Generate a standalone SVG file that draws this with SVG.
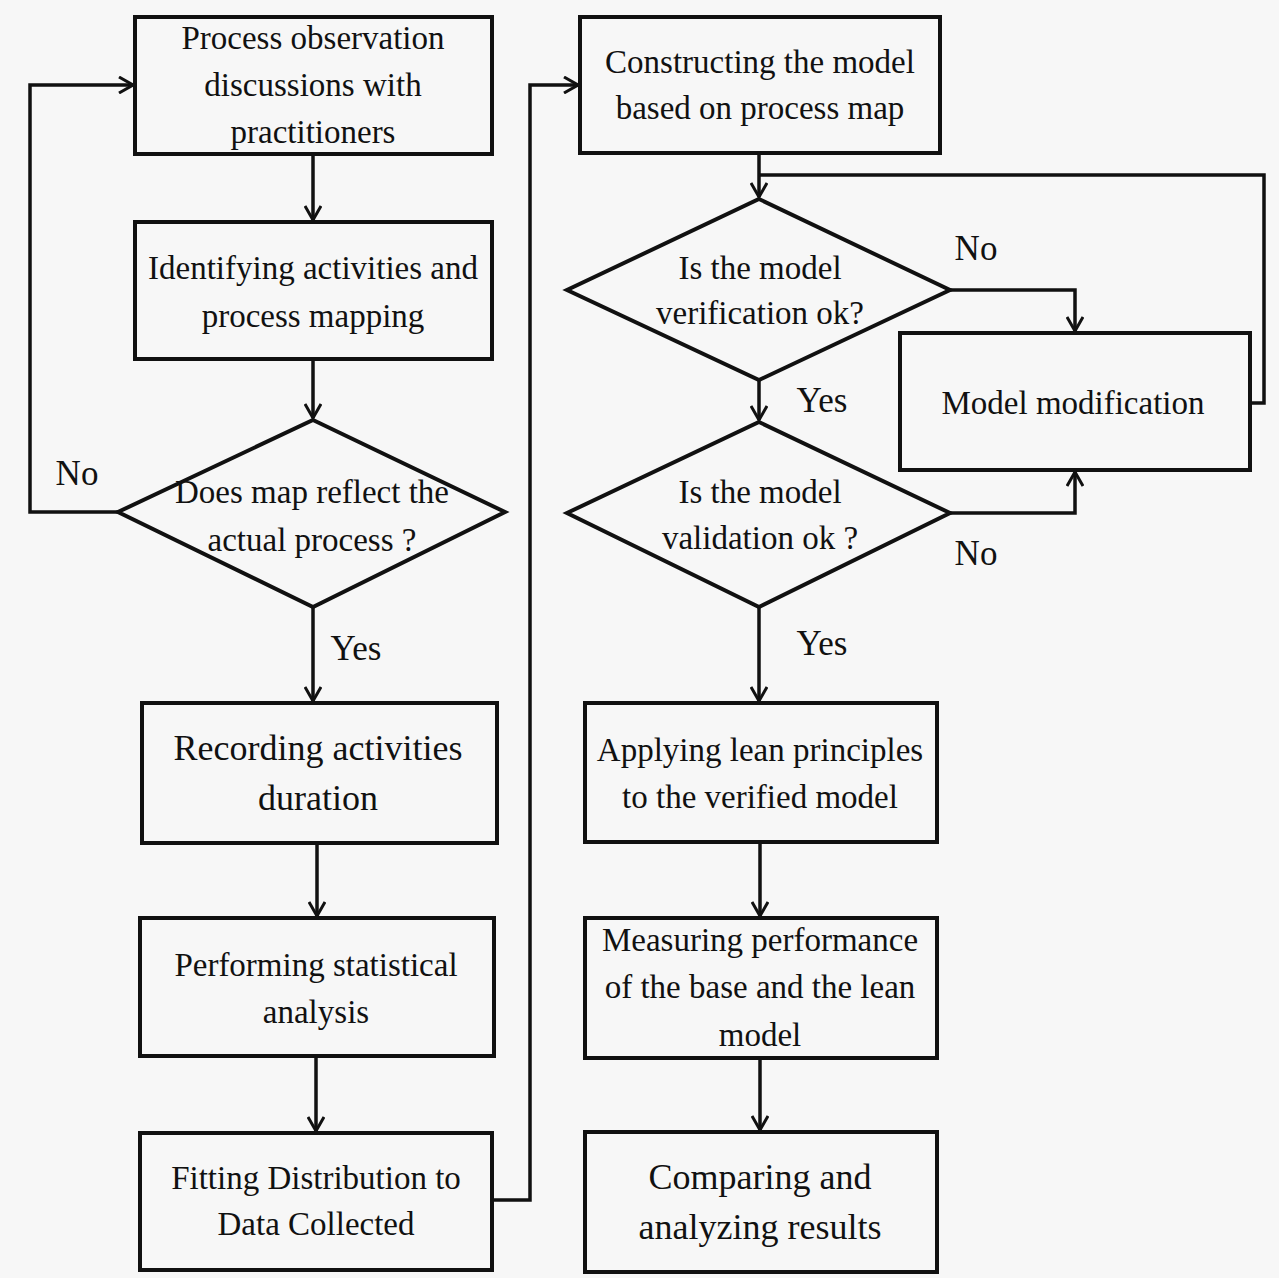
<svg xmlns="http://www.w3.org/2000/svg" width="1279" height="1278" viewBox="0 0 1279 1278">
<defs>
<marker id="arr" viewBox="0 0 16 18" refX="15" refY="9" markerWidth="16" markerHeight="18" markerUnits="userSpaceOnUse" orient="auto">
<path d="M1,1 L15,9 L1,17" fill="none" stroke="#111" stroke-width="3"/>
</marker>
<style>
.box{fill:#f7f7f7;stroke:#111;stroke-width:4}
.c{fill:none;stroke:#111;stroke-width:3.5}
text{font-family:"Liberation Serif","Times New Roman",serif;font-size:33px;fill:#111;text-anchor:middle;dominant-baseline:central}
.big{font-size:36px}
.lbl{font-size:35px}
</style>
</defs>
<rect x="0" y="0" width="1279" height="1278" fill="#f7f7f7"/>
<g id="connectors">
<path class="c" d="M313,154 V220" marker-end="url(#arr)"/>
<path class="c" d="M313,359 V418" marker-end="url(#arr)"/>
<path class="c" d="M313,607 V701" marker-end="url(#arr)"/>
<path class="c" d="M118,512 H30 V85 H133" marker-end="url(#arr)"/>
<path class="c" d="M317,843 V916" marker-end="url(#arr)"/>
<path class="c" d="M316,1056 V1131" marker-end="url(#arr)"/>
<path class="c" d="M492,1200 H530 V85 H578" marker-end="url(#arr)"/>
<path class="c" d="M759,153 V197" marker-end="url(#arr)"/>
<path class="c" d="M950,290 H1075 V331" marker-end="url(#arr)"/>
<path class="c" d="M759,380 V420" marker-end="url(#arr)"/>
<path class="c" d="M950,513 H1075 V472" marker-end="url(#arr)"/>
<path class="c" d="M1250,403 H1264 V175 H759"/>
<path class="c" d="M759,607 V701" marker-end="url(#arr)"/>
<path class="c" d="M760,842 V916" marker-end="url(#arr)"/>
<path class="c" d="M760,1058 V1130" marker-end="url(#arr)"/>
<text x="77" y="473" class="lbl">No</text>
<text x="356" y="648" class="lbl">Yes</text>
<text x="976" y="248" class="lbl">No</text>
<text x="822" y="400" class="lbl">Yes</text>
<text x="976" y="553" class="lbl">No</text>
<text x="822" y="643" class="lbl">Yes</text>
</g>
<g id="n1">
<rect class="box" x="135" y="17" width="357" height="137"/>
<text x="313" y="38">Process observation</text>
<text x="313" y="85">discussions with</text>
<text x="313" y="132">practitioners</text>
</g>
<g id="n2">
<rect class="box" x="135" y="222" width="357" height="137"/>
<text x="313" y="268">Identifying activities and</text>
<text x="313" y="316">process mapping</text>
</g>
<g id="n3">
<polygon class="box" points="313,420 505,512 313,607 118,512"/>
<text x="312" y="492">Does map reflect the</text>
<text x="312" y="540">actual process ?</text>
</g>
<g id="n4">
<rect class="box" x="142" y="703" width="355" height="140"/>
<text x="318" y="748" class="big">Recording activities</text>
<text x="318" y="798" class="big">duration</text>
</g>
<g id="n5">
<rect class="box" x="140" y="918" width="354" height="138"/>
<text x="316" y="965">Performing statistical</text>
<text x="316" y="1012">analysis</text>
</g>
<g id="n6">
<rect class="box" x="140" y="1133" width="352" height="137"/>
<text x="316" y="1178">Fitting Distribution to</text>
<text x="316" y="1224">Data Collected</text>
</g>
<g id="n7">
<rect class="box" x="580" y="17" width="360" height="136"/>
<text x="760" y="62">Constructing the model</text>
<text x="760" y="108">based on process map</text>
</g>
<g id="n8">
<polygon class="box" points="759,199 950,290 759,380 567,290"/>
<text x="760" y="268">Is the model</text>
<text x="760" y="313">verification ok?</text>
</g>
<g id="n9">
<rect class="box" x="900" y="333" width="350" height="137"/>
<text x="1073" y="403">Model modification</text>
</g>
<g id="n10">
<polygon class="box" points="759,422 950,513 759,607 567,513"/>
<text x="760" y="492">Is the model</text>
<text x="760" y="538">validation ok ?</text>
</g>
<g id="n11">
<rect class="box" x="585" y="703" width="352" height="139"/>
<text x="760" y="750">Applying lean principles</text>
<text x="760" y="797">to the verified model</text>
</g>
<g id="n12">
<rect class="box" x="585" y="918" width="352" height="140"/>
<text x="760" y="940">Measuring performance</text>
<text x="760" y="987">of the base and the lean</text>
<text x="760" y="1035">model</text>
</g>
<g id="n13">
<rect class="box" x="585" y="1132" width="352" height="140"/>
<text x="760" y="1177" class="big">Comparing and</text>
<text x="760" y="1227" class="big">analyzing results</text>
</g>
</svg>
